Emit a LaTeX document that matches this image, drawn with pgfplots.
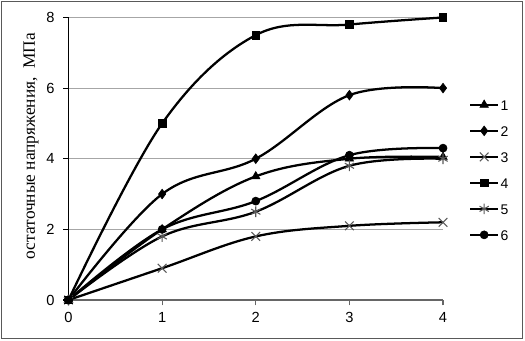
\documentclass[border=0pt]{standalone}
\usepackage{fontspec}
\setmainfont{Liberation Serif}
\newfontfamily\sansf{Liberation Sans}
\usepackage{pgfplots}
\pgfplotsset{compat=1.18}
\begin{document}
\begin{tikzpicture}
\useasboundingbox (-51.375pt,-30.75pt) rectangle (342.375pt,225pt);
\draw[gray!70!black, line width=0.75pt] (-50.25pt,-29.25pt) rectangle (340.5pt,223.9pt);
\begin{axis}[
  at={(0,0)}, anchor=south west,
  scale only axis,
  width=280.9pt, height=211.9pt,
  xmin=0, xmax=4, ymin=0, ymax=8,
  xtick={0,1,2,3,4}, ytick={0,2,4,6,8},
  axis x line*=bottom, axis y line*=left,
  x axis line style={gray!80!black, line width=0.8pt, -},
  y axis line style={black, line width=0.8pt, -},
  tick align=outside,
  major tick length=4pt,
  xtick style={gray!80!black, line width=0.8pt},
  ytick style={black, line width=0.8pt},
  ymajorgrids,
  grid style={gray!70, line width=0.8pt},
  /pgf/number format/assume math mode=true,
  tick label style={font=\sansf\fontsize{11}{13}\selectfont},
  xticklabel style={yshift=-2pt},
  yticklabel style={xshift=-3pt},
  ylabel={остаточные напряжения,~~МПа},
  ylabel style={at={(axis description cs:-0.1,0.545)}, anchor=center, font=\fontsize{13}{15}\selectfont},
  clip=false,
  every axis plot/.append style={black, line width=1.7pt, smooth, tension=0.6},
  legend style={draw=none, fill=none, inner sep=0pt, outer sep=0pt,
    at={(300.4pt,97.6pt)}, anchor=west,
    font=\sansf\fontsize{10.5}{12}\selectfont,
    row sep=11.5pt,
    nodes={inner xsep=1pt, inner ysep=0pt, text height=8pt, text depth=0pt}},
  legend cell align=left,
  legend image code/.code={\draw[mark repeat=2,mark phase=2,#1] plot coordinates {(0pt,0pt) (10.5pt,0pt) (21pt,0pt)};},
]
\addplot[mark=triangle*, mark size=3.6pt, mark options={solid, fill=black, line width=0.5pt}] coordinates {(0,0) (1,2.0) (2,3.5) (3,4.0) (4,4.05)};
\addlegendentry{1}
\addplot[mark=diamond*, mark size=3.6pt, mark options={solid, fill=black, line width=0.5pt}] coordinates {(0,0) (1,3.0) (2,4.0) (3,5.8) (4,6.0)};
\addlegendentry{2}
\addplot[mark=x, mark size=4.6pt, mark options={solid, draw=gray!70!black, line width=0.8pt}] coordinates {(0,0) (1,0.9) (2,1.8) (3,2.1) (4,2.2)};
\addlegendentry{3}
\addplot[mark=square*, mark size=2.8pt, mark options={solid, fill=black, line width=0.5pt}] coordinates {(0,0) (1,5.0) (2,7.5) (3,7.8) (4,8.0)};
\addlegendentry{4}
\addplot[mark=asterisk, mark size=4pt, mark options={solid, draw=gray!70!black, line width=0.8pt}] coordinates {(0,0) (1,1.8) (2,2.5) (3,3.8) (4,4.0)};
\addlegendentry{5}
\addplot[mark=*, mark size=3pt, mark options={solid, fill=black, line width=0.5pt}] coordinates {(0,0) (1,2.0) (2,2.8) (3,4.1) (4,4.3)};
\addlegendentry{6}
\end{axis}
\end{tikzpicture}
\end{document}
